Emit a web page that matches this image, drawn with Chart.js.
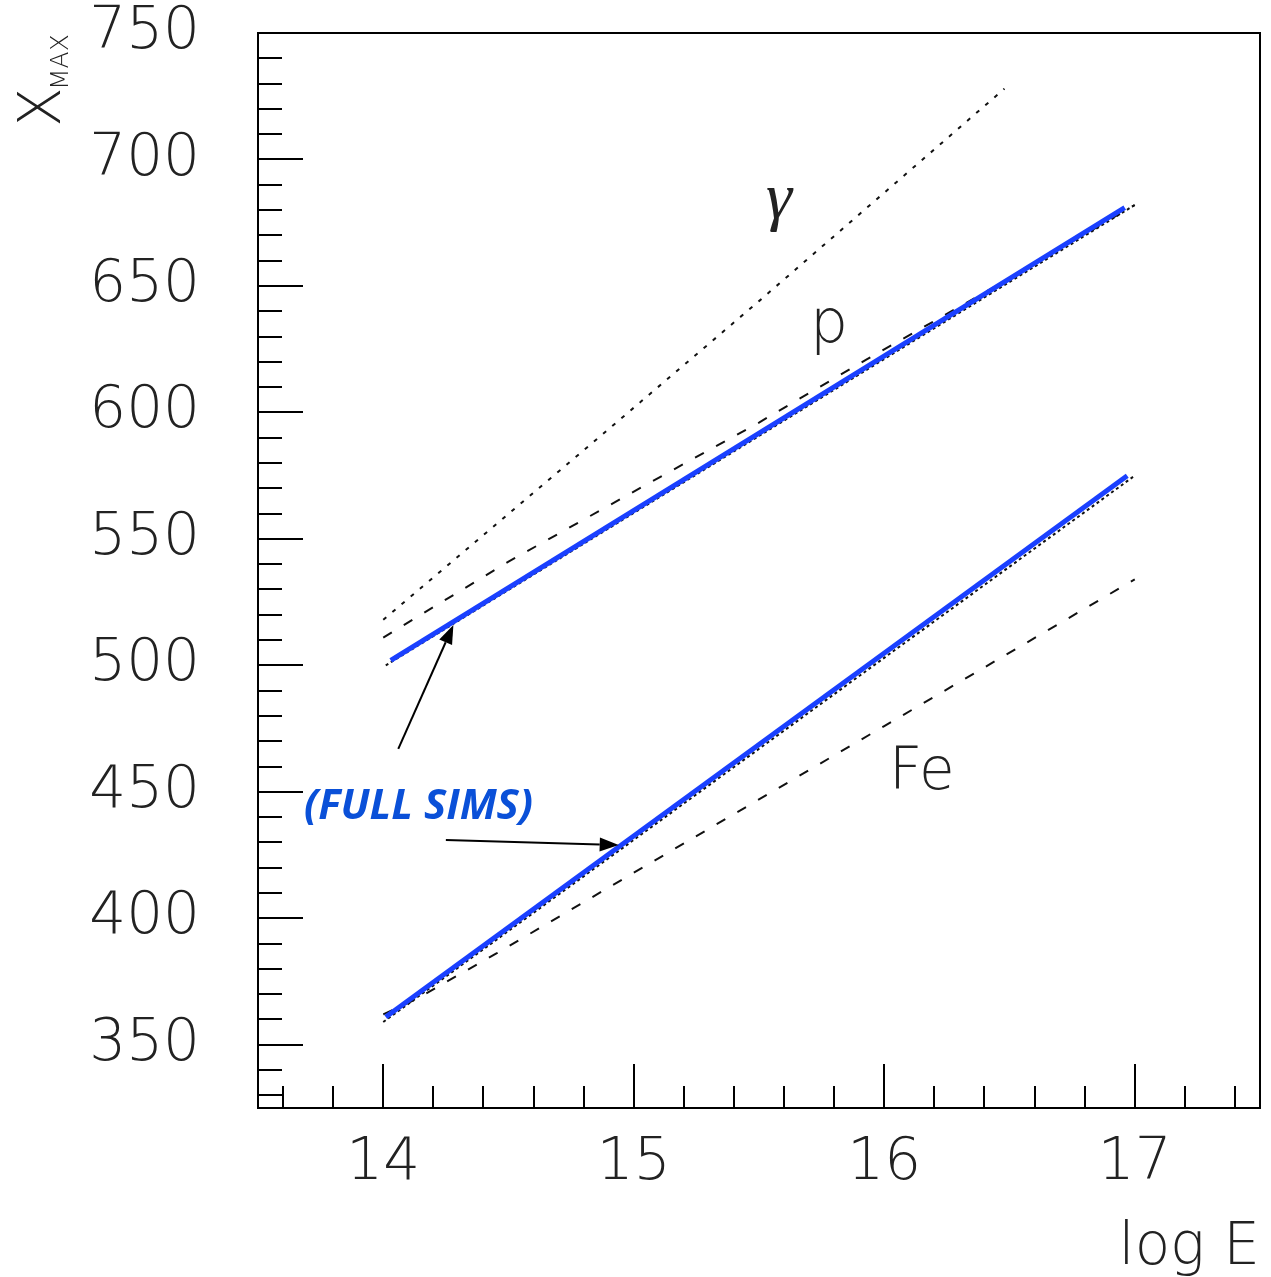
<!DOCTYPE html>
<html>
<head>
<meta charset="utf-8">
<script src="https://cdn.jsdelivr.net/npm/chart.js@4.4.1/dist/chart.umd.min.js"></script>
<style>
  html, body { margin: 0; padding: 0; background: #fff; }
  #wrap { width: 1271px; height: 1277px; position: relative; }
</style>
</head>
<body>
<div id="wrap"><canvas id="xmax-chart"></canvas></div>
<script>
// axis ticks
const xTicks = [14, 15, 16, 17];
const yTicks = [350, 400, 450, 500, 550, 600, 650, 700, 750];

// gamma (dotted)
const gammaLogE = [14.0, 14.8, 15.5, 16.48];
const gammaXmax = [518, 585, 644, 728];

// proton (dashed)
const protonLogE = [14.0, 14.5, 15.06, 15.5, 15.93, 16.5, 17.0];
const protonXmax = [511, 541, 572, 596, 621, 653, 682];

// proton, full sims (blue) and the dotted curve under it
const protonSimLogE = [14.03, 16.96];
const protonSimXmax = [502, 681];
const protonDotLogE = [14.01, 17.0];
const protonDotXmax = [500, 682];

// iron (dashed)
const ironLogE = [14.0, 14.13, 14.45, 15.0, 16.0, 17.0];
const ironXmax = [362, 368, 386, 418, 476, 534];

// iron, full sims (blue) and the dotted curve under it
const ironSimLogE = [14.01, 16.97];
const ironSimXmax = [361, 575];
const ironDotLogE = [14.0, 17.0];
const ironDotXmax = [359, 575];

// text labels on the plot (data coords of the baseline centre)
const curveLabels = [
  { text: "γ", x: 15.58, y: 677, font: "italic 66px 'Liberation Serif'" },
  { text: "p", x: 15.78, y: 628, font: "200 60px 'DejaVu Sans'" },
  { text: "Fe", x: 16.15, y: 451, font: "200 58px 'DejaVu Sans'" },
];

// annotation arrows: [tailX, tailY, headX, headY] in data coords
const arrows = [
  [14.06, 467, 14.28, 516],
  [14.25, 431, 14.94, 429],
];

const toPoints = (xs, ys) => xs.map((x, i) => ({ x, y: ys[i] }));

const tickFont = { family: "'DejaVu Sans'", size: 58, weight: 200 };
const textColor = "#222";
const blue = "#1a40ff";

const frame = {
  id: "frame",
  afterDraw(chart) {
    const { ctx, chartArea: a, scales } = chart;
    const x = scales.x;
    const y = scales.y;
    ctx.save();
    ctx.strokeStyle = "#000";
    ctx.lineWidth = 2;
    ctx.strokeRect(a.left, a.top, a.right - a.left, a.bottom - a.top);
    ctx.beginPath();
    for (let i = 68; i <= 87; i += 1) {
      const v = i / 5;
      const px = Math.round(x.getPixelForValue(v));
      const len = i % 5 === 0 ? 44 : 22;
      ctx.moveTo(px, a.bottom);
      ctx.lineTo(px, a.bottom - len);
    }
    for (let v = 330; v <= 740; v += 10) {
      const py = Math.round(y.getPixelForValue(v));
      const len = v % 50 === 0 ? 45 : 24;
      ctx.moveTo(a.left, py);
      ctx.lineTo(a.left + len, py);
    }
    ctx.stroke();

    // y title: X with subscript MAX, rotated
    ctx.fillStyle = textColor;
    ctx.translate(60, 127);
    ctx.rotate(-Math.PI / 2);
    ctx.textAlign = "left";
    ctx.textBaseline = "alphabetic";
    ctx.font = "200 58px 'DejaVu Sans'";
    ctx.fillText("X", 0, 0);
    ctx.font = "300 25px 'DejaVu Sans'";
    ctx.fillText("MAX", 37, 8);
    ctx.restore();
  },
};

const notes = {
  id: "notes",
  afterDatasetsDraw(chart) {
    const { ctx, scales } = chart;
    const x = scales.x;
    const y = scales.y;
    ctx.save();
    ctx.fillStyle = textColor;
    ctx.textAlign = "center";
    ctx.textBaseline = "alphabetic";
    curveLabels.forEach((l) => {
      ctx.font = l.font;
      ctx.fillText(l.text, x.getPixelForValue(l.x), y.getPixelForValue(l.y));
    });

    ctx.fillStyle = "#0a50d8";
    ctx.textAlign = "left";
    ctx.font = "italic bold 42px 'Open Sans'";
    ctx.fillText("(FULL SIMS)", 304, 819);

    ctx.strokeStyle = "#000";
    ctx.fillStyle = "#000";
    ctx.lineWidth = 2;
    arrows.forEach(([tx, ty, hx, hy]) => {
      const x1 = x.getPixelForValue(tx);
      const y1 = y.getPixelForValue(ty);
      const x2 = x.getPixelForValue(hx);
      const y2 = y.getPixelForValue(hy);
      const ang = Math.atan2(y2 - y1, x2 - x1);
      const head = 19;
      const half = 7;
      const bx = x2 - head * Math.cos(ang);
      const by = y2 - head * Math.sin(ang);
      ctx.beginPath();
      ctx.moveTo(x1, y1);
      ctx.lineTo(bx, by);
      ctx.stroke();
      ctx.beginPath();
      ctx.moveTo(x2, y2);
      ctx.lineTo(bx + half * Math.sin(ang), by - half * Math.cos(ang));
      ctx.lineTo(bx - half * Math.sin(ang), by + half * Math.cos(ang));
      ctx.closePath();
      ctx.fill();
    });
    ctx.restore();
  },
};

const lineSet = (data, color, width, dash, order) => ({
  data,
  showLine: true,
  borderColor: color,
  backgroundColor: color,
  borderWidth: width,
  borderDash: dash,
  pointRadius: 0,
  tension: 0,
  order,
});

new Chart(document.getElementById("xmax-chart"), {
  type: "scatter",
  data: {
    datasets: [
      lineSet(toPoints(protonSimLogE, protonSimXmax), blue, 5, [], 0),
      lineSet(toPoints(ironSimLogE, ironSimXmax), blue, 5, [], 0),
      lineSet(toPoints(protonDotLogE, protonDotXmax), "#111", 2, [3, 3], 1),
      lineSet(toPoints(ironDotLogE, ironDotXmax), "#111", 2, [3, 3], 1),
      lineSet(toPoints(gammaLogE, gammaXmax), "#111", 2, [4, 8], 2),
      lineSet(toPoints(protonLogE, protonXmax), "#111", 2, [10, 14], 2),
      lineSet(toPoints(ironLogE, ironXmax), "#111", 2, [10, 14], 2),
    ],
  },
  options: {
    responsive: true,
    maintainAspectRatio: false,
    animation: false,
    layout: { padding: { left: 0, top: 33, right: 11, bottom: 0 } },
    plugins: { legend: { display: false }, tooltip: { enabled: false } },
    scales: {
      x: {
        type: "linear",
        min: 13.5,
        max: 17.5,
        afterBuildTicks: (scale) => {
          scale.ticks = xTicks.map((v) => ({ value: v }));
        },
        afterFit: (scale) => {
          scale.height = 169;
          scale.paddingLeft = 0;
          scale.paddingRight = 0;
        },
        grid: { display: false, drawTicks: false },
        border: { display: false },
        ticks: { font: tickFont, color: textColor, padding: 21, maxRotation: 0 },
        title: {
          display: true,
          text: "log E",
          align: "end",
          font: tickFont,
          color: textColor,
          padding: { top: 20, bottom: -7 },
        },
      },
      y: {
        type: "linear",
        min: 325,
        max: 750,
        afterBuildTicks: (scale) => {
          scale.ticks = yTicks.map((v) => ({ value: v }));
        },
        afterFit: (scale) => {
          scale.width = 258;
          scale.paddingTop = 0;
          scale.paddingBottom = 0;
        },
        grid: { display: false, drawTicks: false },
        border: { display: false },
        ticks: { font: tickFont, color: textColor, padding: 58 },
      },
    },
  },
  plugins: [frame, notes],
});
</script>
</body>
</html>
